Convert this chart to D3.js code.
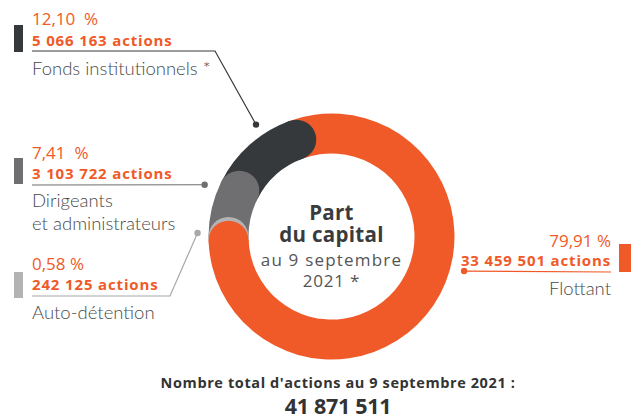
<!DOCTYPE html>
<html>
<head>
<meta charset="utf-8">
<script src="https://cdn.jsdelivr.net/npm/d3@7"></script>
<style>
  body { margin: 0; background: #fff; }
  svg { display: block; }
  .num { font-family: "Open Sans", sans-serif; }
  .lbl { font-family: "Lato", sans-serif; font-weight: 300; }
</style>
</head>
<body>
<div id="chart"></div>
<script>
// order is clockwise around the ring, starting where the dark slice meets the orange one
const categories = ["Flottant", "Auto-détention", "Dirigeants\net administrateurs", "Fonds institutionnels *"];
const percents = [79.91, 0.58, 7.41, 12.10];
const shares = ["33 459 501", "242 125", "3 103 722", "5 066 163"];
const percentLabels = ["79,91 %", "0,58 %", "7,41  %", "12,10  %"];
const colors = ["#f05a28", "#b3b3b3", "#6f6f71", "#36393c"];
const lineColors = ["#f05a28", "#a8a8a8", "#6f6f71", "#36393c"];
const centreTitle = ["Part", "du capital"];
const centreSub = ["au 9 septembre", "2021 *"];
const totalLabel = "Nombre total d'actions au 9 septembre 2021 :";
const totalShares = "41 871 511";

const width = 631, height = 420;
const cx = 331.5, cy = 236.5, rOuter = 123, rInner = 83;
const rMid = (rOuter + rInner) / 2, capR = (rOuter - rInner) / 2;
const orange = "#f05a28";

const svg = d3.select("#chart").append("svg")
  .attr("width", width)
  .attr("height", height);

const rad = d => d * Math.PI / 180;
const start = rad(-20);

const pie = d3.pie().sort(null).value(d => d)
  .startAngle(start).endAngle(start + 2 * Math.PI);
const slices = pie(percents);

const arc = d3.arc().innerRadius(rInner).outerRadius(rOuter);
const ring = svg.append("g").attr("transform", `translate(${cx},${cy})`);

// bodies first
ring.selectAll("path.body")
  .data(slices)
  .join("path")
  .attr("class", "body")
  .attr("fill", (d, i) => colors[i])
  .attr("d", arc);

// round caps at the clockwise end of each slice, each one lying on the next slice
const capOrder = [3, 2, 1, 0];
ring.selectAll("circle.cap")
  .data(capOrder.map(i => ({ s: slices[i], i })))
  .join("circle")
  .attr("class", "cap")
  .attr("cx", d => rMid * Math.sin(d.s.endAngle))
  .attr("cy", d => -rMid * Math.cos(d.s.endAngle))
  .attr("r", capR)
  .attr("fill", d => colors[d.i]);

// centre text
const centre = svg.append("text").attr("class", "num").attr("text-anchor", "middle");
centre.selectAll("tspan.title")
  .data(centreTitle)
  .join("tspan")
  .attr("class", "title")
  .attr("x", cx).attr("y", (d, i) => 220 + i * 22)
  .attr("font-size", 20.5).attr("font-weight", 700).attr("fill", "#3a3b3d")
  .attr("letter-spacing", 0.3)
  .text(d => d);
centre.selectAll("tspan.sub")
  .data(centreSub)
  .join("tspan")
  .attr("class", "sub")
  .attr("x", cx).attr("y", (d, i) => 266 + i * 21)
  .attr("font-size", 17).attr("font-weight", 400).attr("fill", "#555")
  .attr("letter-spacing", (d, i) => i ? 0.8 : 1.2)
  .text(d => d);

// label layout per slice
const layout = [
  { side: "right", x: 611, pctY: 247, shY: 266, ruleY: 272, lblY: 295, swX: 619, swY: 244, swH: 28, angle: 104.6, r: 137 },
  { side: "left", x: 32, pctY: 270, shY: 290, ruleY: 296, lblY: 319, swX: 14, swY: 272, swH: 26, angle: -88.5, r: 134, elbow: 170 },
  { side: "left", x: 32, pctY: 159, shY: 179, ruleY: 185, lblY: 207, swX: 14, swY: 158, swH: 26, angle: -67.8, r: 137 },
  { side: "left", x: 32, pctY: 25, shY: 46, ruleY: 51, lblY: 75, swX: 14, swY: 25, swH: 27, angle: -34, r: 135, elbow: 215 }
];

const labels = svg.append("g");
layout.forEach((L, i) => {
  const g = labels.append("g");
  const anchor = L.side === "right" ? "end" : "start";
  const dot = [cx + L.r * Math.sin(rad(L.angle)), cy - L.r * Math.cos(rad(L.angle))];

  g.append("rect")
    .attr("x", L.swX).attr("y", L.swY)
    .attr("width", L.side === "right" ? 14 : 9).attr("height", L.swH)
    .attr("fill", colors[i]);

  let pts;
  if (L.side === "right") {
    pts = [dot, [L.x, L.ruleY]];
  } else if (L.elbow) {
    pts = [[L.x, L.ruleY], [L.elbow, L.ruleY], dot];
  } else {
    pts = [[L.x, L.ruleY], dot];
  }
  g.append("path")
    .attr("d", d3.line()(pts))
    .attr("fill", "none")
    .attr("stroke", lineColors[i])
    .attr("stroke-width", 1.2);
  g.append("circle")
    .attr("cx", dot[0]).attr("cy", dot[1]).attr("r", 3.2)
    .attr("fill", lineColors[i]);

  g.append("text").attr("class", "num")
    .attr("x", L.x).attr("y", L.pctY).attr("text-anchor", anchor)
    .attr("font-size", 17).attr("fill", orange)
    .style("white-space", "pre")
    .text(percentLabels[i]);
  g.append("text").attr("class", "num")
    .attr("x", L.x).attr("y", L.shY).attr("text-anchor", anchor)
    .attr("font-size", 15).attr("font-weight", 700).attr("fill", orange)
    .attr("letter-spacing", 0.85)
    .text(`${shares[i]} actions`);

  const lines = categories[i].split("\n");
  lines.forEach((t, k) => {
    g.append("text").attr("class", "lbl")
      .attr("x", L.x).attr("y", L.lblY + k * 23).attr("text-anchor", anchor)
      .attr("font-size", 18.5).attr("fill", "#4a4a4a")
      .text(t);
  });
});

// total
const total = svg.append("g").attr("class", "num").attr("text-anchor", "middle").attr("fill", "#333");
total.append("text").attr("x", 338).attr("y", 388)
  .attr("font-size", 14.5).attr("font-weight", 700).attr("letter-spacing", 0.6).text(totalLabel);
total.append("text").attr("x", 338).attr("y", 414)
  .attr("font-size", 21.5).attr("font-weight", 700).attr("letter-spacing", -0.3).text(totalShares);
</script>
</body>
</html>
